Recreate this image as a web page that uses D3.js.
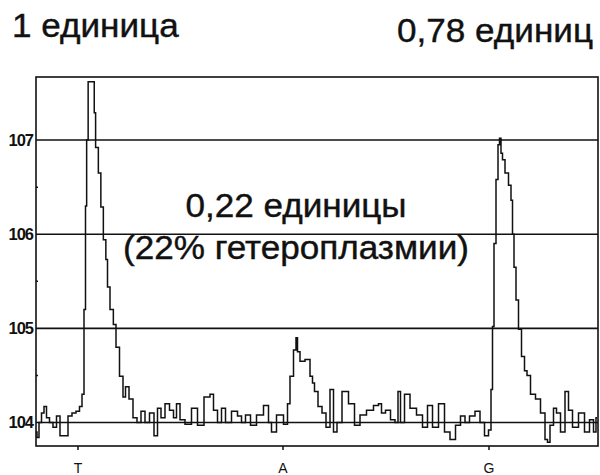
<!DOCTYPE html>
<html>
<head>
<meta charset="UTF-8">
<title>Pyrogram</title>
<style>
html, body {
    margin: 0;
    padding: 0;
    background-color: #fff;
}
svg text {
    fill: #111;
}
.frame, .grid {
    stroke: #111;
    stroke-width: 1.6;
    fill: none;
}
.trace {
    fill: none;
    stroke: #111;
    stroke-width: 1.5;
}
.ylab {
    font-family: "Liberation Sans Narrow", "Arial Narrow", "Liberation Sans", sans-serif;
    font-size: 16.5px;
    font-weight: bold;
}
.xlab {
    font-family: "Liberation Sans", Arial, sans-serif;
    font-size: 14px;
}
.big {
    font-family: "Liberation Sans", Arial, sans-serif;
    font-size: 32.5px;
    stroke: #111;
    stroke-width: 0.4;
}
</style>
</head>
<body>
<div class="chart"></div>
<script src="https://cdn.jsdelivr.net/npm/d3@7/dist/d3.min.js"></script>
<script>
// dispensation order and where each one happens on the time axis
let bases = ['T', 'A', 'G'];
let baseTimes = [42, 247, 453];

let yTicks = [104, 105, 106, 107];
let yMinor = [104.5, 105.5, 106.5];

// light signal
let flowTime = [0, 2, 4, 7, 9, 12, 15, 19, 22, 26, 30, 34, 38, 42, 45, 47, 49, 50, 51.3, 53, 58, 58.5, 60.7, 64, 65.7, 69, 70.7, 72.3, 75.7, 79,
    81, 86, 88, 91, 95, 99, 103, 107, 111, 116, 120, 123, 127, 131, 136, 139, 142, 146, 152, 159, 164, 172, 176, 179, 184, 187, 192, 199, 204, 207,
    212, 217, 224, 231, 234, 237, 244, 251, 252, 256, 259, 261, 262, 266, 272, 276, 277, 280, 284, 288, 292, 296, 299, 303, 309, 316, 321, 327, 334, 341,
    344, 347, 352, 357, 361, 363, 366, 371, 377, 384, 389, 394, 399, 406, 411, 417, 422, 427, 431, 436, 442, 446, 451, 454, 456, 457, 459, 461, 463, 464,
    466, 467, 471, 474, 476, 477, 479, 481, 484, 487, 490, 492, 497, 502, 507, 511, 512, 516, 519, 522, 527, 531, 534, 539, 546, 551, 556, 559, 561];
let signal = [103.9, 103.84, 104.0, 104.1, 104.17, 104.05, 104.0, 103.95, 104.07, 103.86, 103.86, 104.07, 104.1, 104.12, 104.17, 104.3, 105.2, 106.3, 107.0, 107.62, 107.62, 107.29, 106.92, 106.65, 106.29, 105.94, 105.73, 105.44, 105.2, 105.04,
    104.8, 104.49, 104.27, 104.38, 104.25, 104.05, 104.0, 104.12, 104.0, 104.1, 103.86, 104.15, 104.05, 104.2, 104.13, 104.05, 104.2, 104.03, 103.98, 104.15, 103.97, 104.27, 104.3, 104.13, 104.0, 104.15, 104.0, 104.12, 104.07, 104.0,
    104.08, 103.97, 104.08, 104.18, 104.0, 103.9, 104.08, 103.98, 104.2, 104.49, 104.77, 104.9, 104.75, 104.65, 104.67, 104.49, 104.42, 104.33, 104.17, 104.1, 103.95, 104.35, 103.9, 104.0, 104.33, 104.2, 103.97, 104.08, 104.13, 104.18,
    104.2, 104.1, 104.13, 104.03, 104.0, 104.33, 104.0, 104.3, 104.15, 104.08, 103.95, 104.18, 103.95, 104.2, 103.9, 103.82, 103.97, 104.07, 104.0, 104.07, 104.12, 104.0, 103.86, 103.92, 104.35, 105.02, 105.9, 106.58, 106.95, 107.02,
    106.86, 106.79, 106.65, 106.52, 106.36, 106.0, 105.65, 105.3, 104.99, 104.7, 104.55, 104.5, 104.3, 104.25, 104.1, 103.82, 103.79, 103.97, 104.15, 104.1, 103.9, 104.33, 104.13, 103.95, 104.1, 103.9, 104.03, 103.9, 104.05];

let width = 600, height = 475;
let plotLeft = 36, plotRight = 598, plotTop = 77, plotBottom = 446;

let svg = d3.select('.chart').append('svg')
    .attr('width', width)
    .attr('height', height);

let xScale = d3.scaleLinear()
    .domain([0, 562])
    .range([plotLeft, plotRight]);

let yScale = d3.scaleLinear()
    .domain([103.75, 107.67])
    .range([plotBottom, plotTop]);

// horizontal grid at the whole units
svg.selectAll('.grid')
    .data(yTicks)
    .enter().append('line')
    .attr('class', 'grid')
    .attr('x1', plotLeft)
    .attr('x2', plotRight)
    .attr('y1', (d) => yScale(d))
    .attr('y2', (d) => yScale(d));

svg.selectAll('.ylab')
    .data(yTicks)
    .enter().append('text')
    .attr('class', 'ylab')
    .attr('x', plotLeft - 3)
    .attr('y', (d) => yScale(d))
    .attr('dy', '0.35em')
    .attr('text-anchor', 'end')
    .attr('letter-spacing', '-1')
    .text((d) => d);

svg.selectAll('.minor')
    .data(yMinor)
    .enter().append('line')
    .attr('stroke', '#111')
    .attr('stroke-width', 1.5)
    .attr('x1', plotLeft)
    .attr('x2', plotLeft + 2)
    .attr('y1', (d) => yScale(d))
    .attr('y2', (d) => yScale(d));

// frame
svg.append('rect')
    .attr('class', 'frame')
    .attr('x', plotLeft)
    .attr('y', plotTop)
    .attr('width', plotRight - plotLeft)
    .attr('height', plotBottom - plotTop);

// dispensation ticks
svg.selectAll('.xtick')
    .data(baseTimes)
    .enter().append('line')
    .attr('stroke', '#111')
    .attr('stroke-width', 1.5)
    .attr('x1', (d) => xScale(d))
    .attr('x2', (d) => xScale(d))
    .attr('y1', plotBottom)
    .attr('y2', plotBottom + 4);

svg.selectAll('.xlab')
    .data(bases)
    .enter().append('text')
    .attr('class', 'xlab')
    .attr('x', (d, i) => xScale(baseTimes[i]))
    .attr('y', plotBottom + 27)
    .attr('text-anchor', 'middle')
    .text((d) => d);

let line = d3.line()
    .x((d, i) => xScale(flowTime[i]))
    .y((d) => yScale(d))
    .curve(d3.curveStep);

svg.append('path')
    .attr('class', 'trace')
    .attr('d', line(signal));

// annotations
function label(txt, x, y, anchor) {
    svg.append('text')
        .attr('class', 'big')
        .attr('transform', 'translate(' + x + ',' + y + ') scale(1.08,1)')
        .attr('text-anchor', anchor)
        .text(txt);
}

label('1 единица', 12, 37, 'start');
label('0,78 единиц', 593, 42, 'end');
label('0,22 единицы', 296, 217, 'middle');
label('(22% гетероплазмии)', 296, 259, 'middle');
</script>
</body>
</html>
